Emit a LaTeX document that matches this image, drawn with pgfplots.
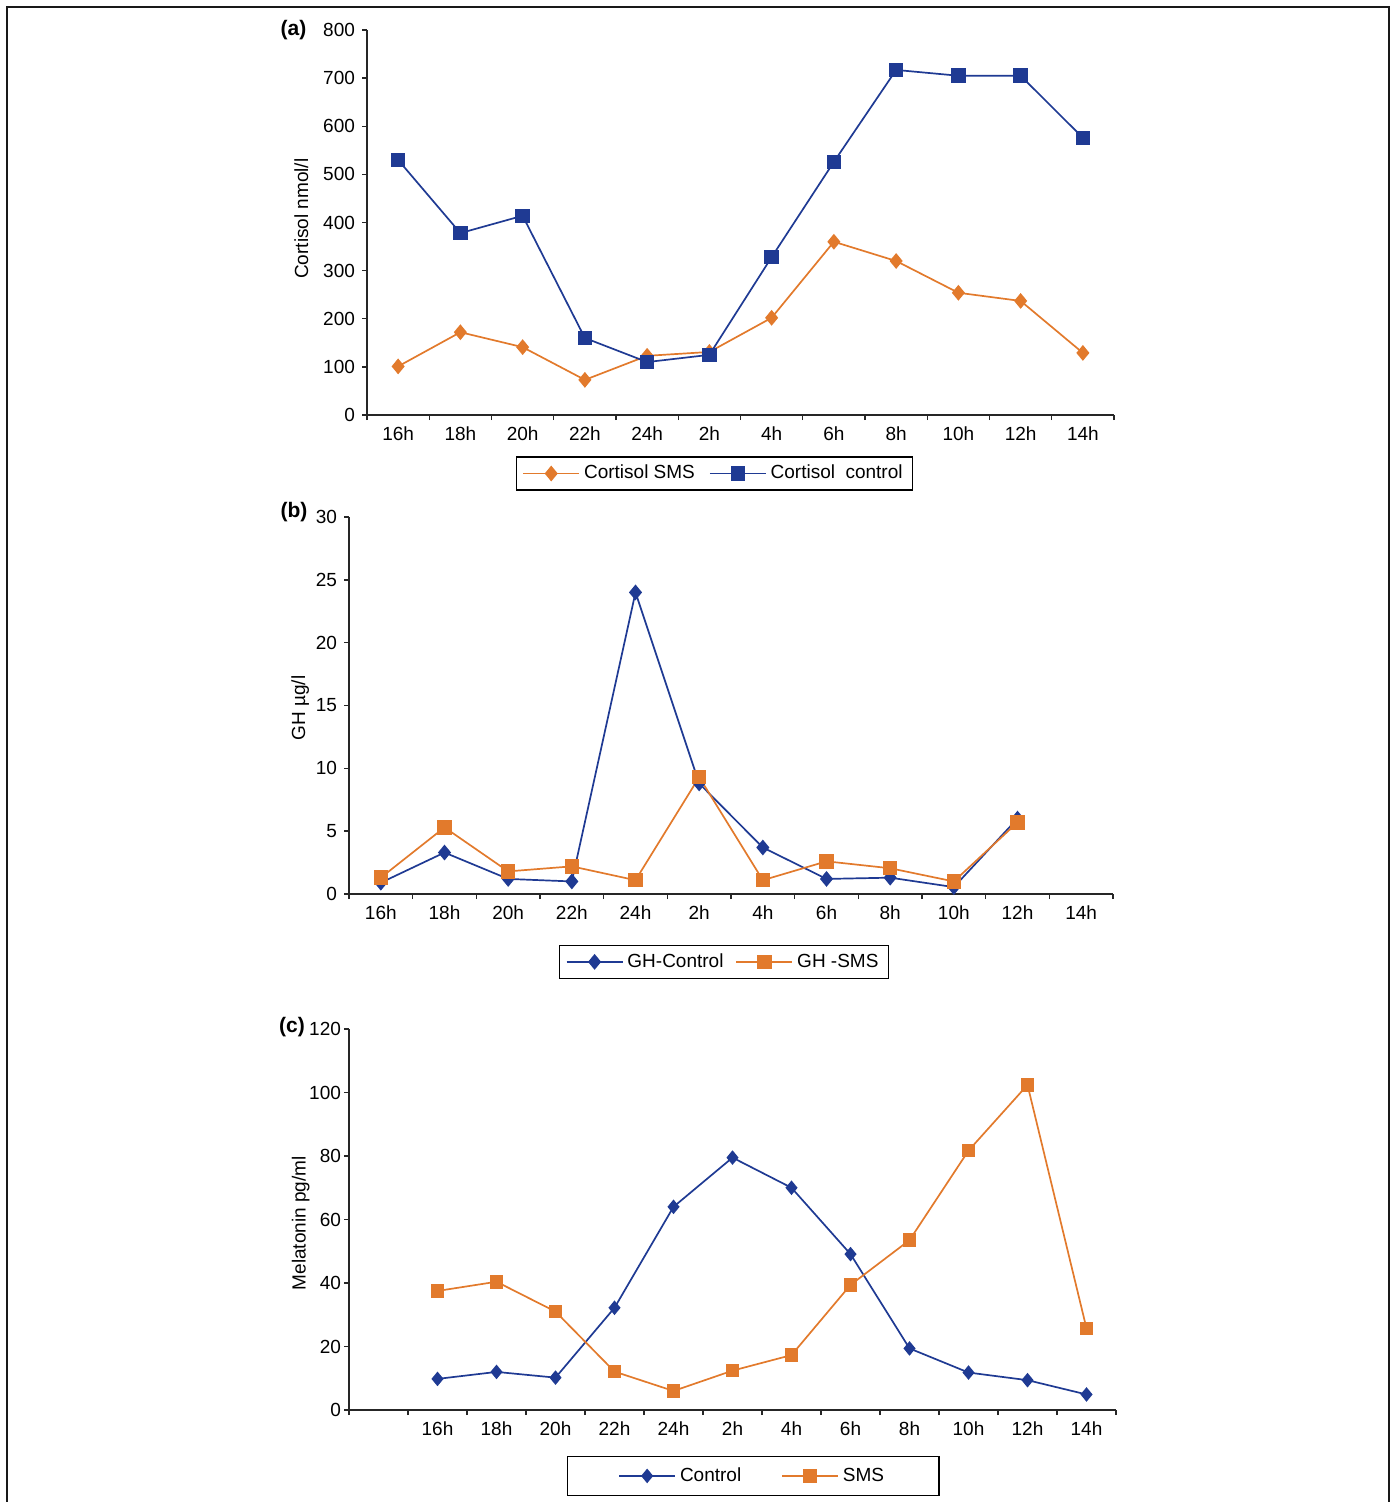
\documentclass[border=0pt]{standalone}
\usepackage{fontspec}
\setmainfont{Liberation Sans}
\usepackage{pgfplots}
\pgfplotsset{compat=1.18}
\definecolor{cblue}{RGB}{31,58,147}
\definecolor{corange}{RGB}{226,122,44}
\newcommand{\fs}{\fontsize{9.5}{11}\selectfont}
\pgfplotsset{
 panel/.style={
  scale only axis, anchor=south west,
  axis x line*=bottom, axis y line*=left,
  axis line style={line width=0.8pt, color=black!85},
  tick align=outside, tick style={line width=0.7pt, color=black!85},
  major tick length=2.5pt,
  x tick label as interval,
  tick label style={font=\fs},
  /pgf/number format/assume math mode=true,
  label style={font=\fs},
  legend style={draw=black, line width=0.7pt, font=\fs, anchor=center, legend columns=2},
  legend image code/.code={\draw[mark repeat=2,mark phase=2] plot coordinates {(0pt,0pt) (14pt,0pt) (28pt,0pt)};},
 },
 bl/.style={color=cblue, line width=0.85pt, mark options={solid}},
 orl/.style={color=corange, line width=0.85pt, mark options={solid}},
 dia/.style={mark=diamond*, mark size=3.3pt, mark options={solid, xscale=1.1}},
 sq/.style={mark=square*, mark size=3.2pt, mark options={solid}},
}
\begin{document}
\begin{tikzpicture}
\useasboundingbox (0,0) rectangle (697pt,-751pt);
\draw[line width=0.8pt, black!90] (3.5pt,-760pt) -- (3.5pt,-3.5pt) -- (694.5pt,-3.5pt) -- (694.5pt,-760pt);

% (a)
\begin{axis}[panel, at={(183.5pt,-207.5pt)}, width=373.5pt, height=192.5pt,
  xmin=-0.5, xmax=11.5, ymin=0, ymax=800,
  xtick={-0.5,0.5,...,11.5},
  xticklabels={16h,18h,20h,22h,24h,2h,4h,6h,8h,10h,12h,14h},
  ytick={0,100,...,800},
  ylabel={Cortisol nmol/l},
  ylabel style={at={(axis description cs:-0.088,0.51)}, anchor=center},
  legend style={at={(0.4652,-0.152)}, inner xsep=3pt, /tikz/every even column/.append style={column sep=5pt}},
]
\addplot[orl, dia] coordinates {(0,101) (1,172) (2,141) (3,73) (4,123) (5,131) (6,202) (7,360) (8,320) (9,254) (10,237) (11,129)};
\addlegendentry{Cortisol SMS}
\addplot[bl, sq] coordinates {(0,530) (1,378) (2,414) (3,160) (4,110) (5,125) (6,328) (7,526) (8,717) (9,705) (10,705) (11,576)};
\addlegendentry{Cortisol\ \ control}
\end{axis}

% (b)
\begin{axis}[panel, at={(174.5pt,-447pt)}, width=382pt, height=188.5pt,
  xmin=-0.5, xmax=11.5, ymin=0, ymax=30,
  xtick={-0.5,0.5,...,11.5},
  xticklabels={16h,18h,20h,22h,24h,2h,4h,6h,8h,10h,12h,14h},
  ytick={0,5,...,30},
  ylabel={GH µg/l},
  ylabel style={at={(axis description cs:-0.064,0.493)}, anchor=center},
  legend style={at={(0.491,-0.180)}, /tikz/every even column/.append style={column sep=4pt}},
]
\addplot[bl, dia] coordinates {(0,0.9) (1,3.3) (2,1.2) (3,1.0) (4,24.0) (5,8.8) (6,3.7) (7,1.2) (8,1.3) (9,0.55) (10,6.0)};
\addlegendentry{GH-Control}
\addplot[orl, sq] coordinates {(0,1.3) (1,5.3) (2,1.8) (3,2.2) (4,1.1) (5,9.3) (6,1.1) (7,2.6) (8,2.05) (9,1.0) (10,5.7)};
\addlegendentry{GH -SMS}
\end{axis}

% (c)
\begin{axis}[panel, at={(174.5pt,-705pt)}, width=383.5pt, height=190.5pt,
  xmin=-1.5, xmax=11.5, ymin=0, ymax=120,
  xtick={-1.5,-0.5,...,11.5},
  xticklabels={,16h,18h,20h,22h,24h,2h,4h,6h,8h,10h,12h,14h},
  ytick={0,20,...,120},
  yticklabel style={xshift=2pt},
  ylabel={Melatonin pg/ml},
  ylabel style={at={(axis description cs:-0.063,0.49)}, anchor=center},
  legend style={at={(0.527,-0.173)}, inner xsep=25.5pt, inner ysep=3.5pt, /tikz/every even column/.append style={column sep=18pt}},
]
\addplot[bl, dia, mark size=3pt] coordinates {(0,9.8) (1,12.0) (2,10.2) (3,32.2) (4,64.0) (5,79.5) (6,70.0) (7,49.1) (8,19.4) (9,11.8) (10,9.4) (11,4.9)};
\addlegendentry{Control}
\addplot[orl, sq, mark size=3pt] coordinates {(0,37.5) (1,40.4) (2,31.0) (3,12.1) (4,6.0) (5,12.4) (6,17.3) (7,39.4) (8,53.5) (9,81.7) (10,102.4) (11,25.7)};
\addlegendentry{SMS}
\end{axis}

\node[font=\bfseries\fontsize{10.5}{12}\selectfont] at (146.75pt,-15pt) {(a)};
\node[font=\bfseries\fontsize{10.5}{12}\selectfont] at (147pt,-256pt) {(b)};
\node[font=\bfseries\fontsize{10.5}{12}\selectfont] at (146pt,-513.5pt) {(c)};
\end{tikzpicture}
\end{document}
